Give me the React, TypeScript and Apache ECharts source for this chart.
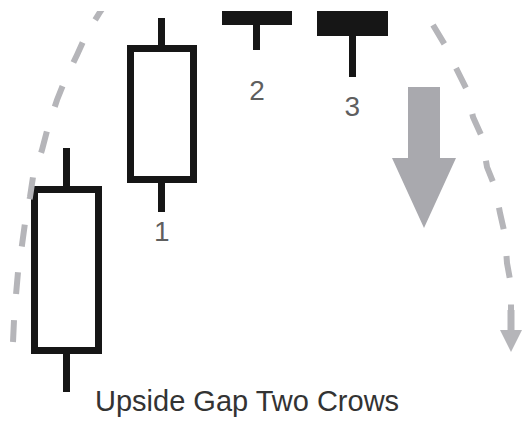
import React, { useEffect, useRef } from 'react';
import * as echarts from 'echarts';

// Candles: first white, second white (gap up), then two black "crows"
const categories = ['Day 0', 'Day 1', 'Day 2', 'Day 3'];
const opens = [15.1, 57.9, 104, 107];
const closes = [55.4, 90.6, 97.4, 94.6];
const lows = [4.75, 49.75, 90.25, 83.5];
const highs = [65.75, 98.25, 106, 109];

// Numbering labels under candles 1..3
const candleLabels = ['', '1', '2', '3'];
const labelLevels: (number | null)[] = [null, 45, 80.25, 76.25];

const titleText = 'Upside Gap Two Crows';

const FONT = '"Liberation Sans", Arial, Helvetica, sans-serif';
const DASH_GRAY = '#b5b5b9';
const ARROW_GRAY = '#a9a9ae';
const INK = '#161616';
const TEXT = '#333333';

export default function App() {
  const ref = useRef<HTMLDivElement>(null);

  useEffect(() => {
    if (!ref.current) return;
    const chart = echarts.init(ref.current, null, { renderer: 'svg' });

    const candleData = categories.map((_, i) => [opens[i], closes[i], lows[i], highs[i]]);
    const labelData = categories
      .map((c, i) => (labelLevels[i] == null ? null : { name: candleLabels[i], value: [c, labelLevels[i]] }))
      .filter((d) => d != null);

    const leftArc = [
      [13, 342], [14, 320], [16, 295], [18, 272], [22, 245], [25, 223], [30, 197], [33, 177],
      [42, 150], [48, 127], [57, 100], [65, 80], [77, 55], [87, 33], [100, 12], [108, 0],
    ];
    const rightArc = [
      [433, 25], [445, 45], [457, 70], [467, 90], [473, 117], [482, 137], [487, 167], [495, 187],
      [500, 213], [505, 235], [507, 263], [511, 285], [511, 310],
    ];

    chart.setOption({
      animation: false,
      backgroundColor: '#ffffff',
      grid: { left: 19, width: 381, top: 11, height: 400, containLabel: false },
      xAxis: { type: 'category', data: categories, show: false, boundaryGap: true },
      yAxis: { type: 'value', min: 0, max: 100, show: false },
      series: [
        {
          type: 'candlestick',
          data: candleData,
          barWidth: 64,
          clip: true,
          itemStyle: {
            color: '#ffffff',
            color0: INK,
            borderColor: INK,
            borderColor0: INK,
            borderWidth: 7,
          },
        },
        {
          type: 'scatter',
          data: labelData,
          symbolSize: 0,
          silent: true,
          label: {
            show: true,
            position: 'inside',
            formatter: '{b}',
            fontFamily: FONT,
            fontSize: 28,
            color: TEXT,
          },
        },
      ],
      graphic: [
        {
          type: 'polyline',
          z: 5,
          shape: { points: leftArc },
          style: { stroke: DASH_GRAY, lineWidth: 6, lineDash: [22, 26], fill: null },
        },
        {
          type: 'polyline',
          z: 5,
          shape: { points: rightArc },
          style: { stroke: DASH_GRAY, lineWidth: 6, lineDash: [22, 27], fill: null },
        },
        {
          type: 'line',
          z: 5,
          shape: { x1: 511, y1: 310, x2: 511, y2: 332 },
          style: { stroke: DASH_GRAY, lineWidth: 7 },
        },
        {
          type: 'polygon',
          z: 5,
          shape: { points: [[500, 330], [522, 330], [511, 352]] },
          style: { fill: DASH_GRAY },
        },
        {
          type: 'polygon',
          z: 5,
          shape: {
            points: [[408, 87], [440, 87], [440, 158], [456, 158], [424, 228], [392, 158], [408, 158]],
          },
          style: { fill: ARROW_GRAY },
        },
        {
          type: 'text',
          z: 5,
          x: 95,
          y: 401,
          style: {
            text: titleText,
            fontFamily: FONT,
            fontSize: 29,
            fill: TEXT,
            textAlign: 'left',
            textVerticalAlign: 'middle',
          },
        },
        {
          type: 'rect',
          z: 100,
          shape: { x: 0, y: 0, width: 522, height: 11 },
          style: { fill: '#ffffff' },
        },
      ],
    });

    return () => chart.dispose();
  }, []);

  return (
    <div
      ref={ref}
      style={{ position: 'fixed', left: 0, top: 0, width: 522, height: 421, background: '#ffffff' }}
    />
  );
}
